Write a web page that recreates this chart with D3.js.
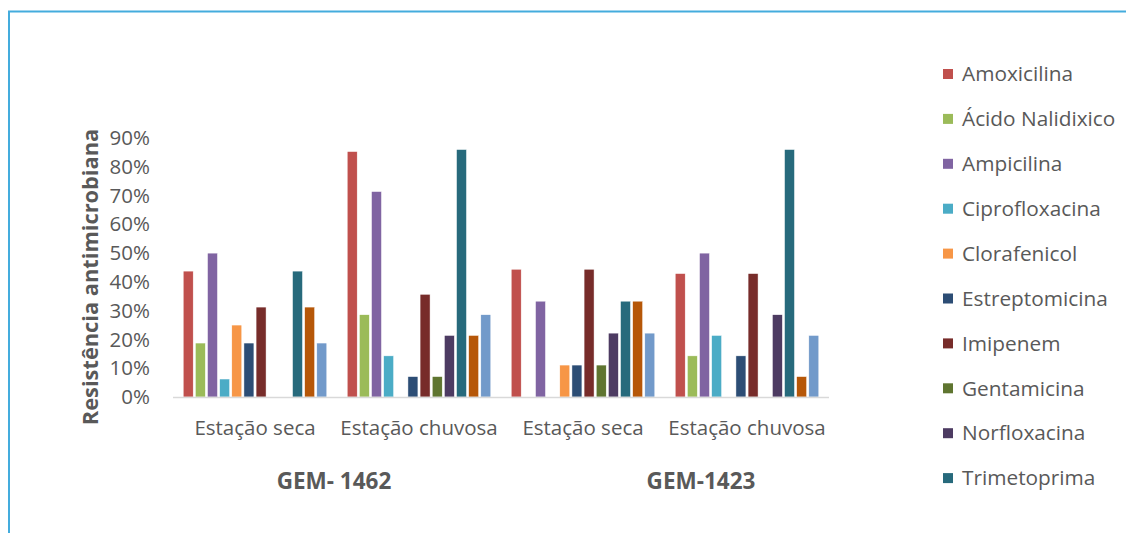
<!DOCTYPE html>
<html>
<head>
<meta charset="utf-8">
<script src="https://cdn.jsdelivr.net/npm/d3@7"></script>
<style>
  html, body { margin: 0; padding: 0; background: #fff; }
  svg { display: block; }
  text { font-family: "Open Sans", "Noto Sans", sans-serif; fill: #595959; }
</style>
</head>
<body>
<svg id="chart" width="1126" height="533"></svg>
<script>
// Isolates and seasons (outer and inner category levels)
const isolates = ["GEM- 1462", "GEM-1423"];
const seasons = ["Estação seca", "Estação chuvosa"];

// Antibiotics, in series order; only the first ten fit in the legend
const antibiotics = [
  "Amoxicilina", "Ácido Nalidixico", "Ampicilina", "Ciprofloxacina",
  "Clorafenicol", "Estreptomicina", "Imipenem", "Gentamicina",
  "Norfloxacina", "Trimetoprima", "Série 11", "Série 12"
];
const legendCount = 10;

// Resistance (fraction) per group, one value per antibiotic
const gem1462Seca    = [0.4375, 0.1875, 0.50, 0.0625, 0.25, 0.1875, 0.3125, 0, 0, 0.4375, 0.3125, 0.1875];
const gem1462Chuvosa = [0.853, 0.286, 0.714, 0.143, 0, 0.071, 0.357, 0.071, 0.214, 0.860, 0.214, 0.286];
const gem1423Seca    = [0.444, 0, 0.333, 0, 0.111, 0.111, 0.444, 0.111, 0.222, 0.333, 0.333, 0.222];
const gem1423Chuvosa = [0.429, 0.143, 0.50, 0.214, 0, 0.143, 0.429, 0, 0.286, 0.860, 0.071, 0.214];

const yTicks = [0, 0.1, 0.2, 0.3, 0.4, 0.5, 0.6, 0.7, 0.8, 0.9];

const colors = [
  "#C0504D", "#9BBB59", "#8064A2", "#4BACC6", "#F79646", "#2C4D75",
  "#772C2A", "#5F7530", "#4D3B62", "#276A7C", "#B65708", "#729ACA"
];

const groups = [
  { isolate: isolates[0], season: seasons[0], values: gem1462Seca },
  { isolate: isolates[0], season: seasons[1], values: gem1462Chuvosa },
  { isolate: isolates[1], season: seasons[0], values: gem1423Seca },
  { isolate: isolates[1], season: seasons[1], values: gem1423Chuvosa }
];
groups.forEach((g, i) => g.key = i);

const svg = d3.select("#chart");

// Outer frame
svg.append("rect")
  .attr("x", 9).attr("y", 11.5)
  .attr("width", 1140).attr("height", 560)
  .attr("fill", "none")
  .attr("stroke", "#44ACDD")
  .attr("stroke-width", 2);

const plot = { left: 173, right: 829, top: 138, bottom: 397 };

const x0 = d3.scaleBand()
  .domain(groups.map(g => g.key))
  .range([plot.left, plot.right])
  .padding(0);

const x1 = d3.scaleBand()
  .domain(d3.range(antibiotics.length))
  .range([0, x0.bandwidth()])
  .paddingInner(0.177)
  .paddingOuter(0.84);

const y = d3.scaleLinear()
  .domain([0, 0.9])
  .range([plot.bottom, plot.top]);

// Bars
const gSel = svg.append("g").selectAll("g")
  .data(groups)
  .join("g")
  .attr("transform", d => `translate(${x0(d.key)},0)`);

gSel.selectAll("rect")
  .data(d => d.values.map((v, i) => ({ v, i })).filter(e => e.v > 0))
  .join("rect")
  .attr("x", d => x1(d.i))
  .attr("width", x1.bandwidth())
  .attr("y", d => y(d.v))
  .attr("height", d => y(0) - y(d.v))
  .attr("fill", d => colors[d.i])
  .attr("stroke", "#fff")
  .attr("stroke-width", 0.5);

// Category axis line
svg.append("line")
  .attr("x1", plot.left).attr("x2", plot.right)
  .attr("y1", y(0) + 0.5).attr("y2", y(0) + 0.5)
  .attr("stroke", "#D9D9D9")
  .attr("stroke-width", 1.5);

// Value axis
const yAxis = svg.append("g")
  .attr("transform", `translate(${plot.left},0)`)
  .call(d3.axisLeft(y).tickValues(yTicks).tickFormat(d3.format(".0%")).tickSize(0).tickPadding(23));
yAxis.select(".domain").remove();
yAxis.selectAll("text")
  .style("font-family", "'Open Sans', sans-serif")
  .attr("font-size", 20.5)
  .attr("fill", "#595959");

// Season labels
svg.append("g").selectAll("text")
  .data(groups)
  .join("text")
  .attr("x", d => x0(d.key) + x0.bandwidth() / 2)
  .attr("y", 428)
  .attr("dy", "0.35em")
  .attr("text-anchor", "middle")
  .attr("font-size", 20.5)
  .text(d => d.season);

// Isolate labels
const isoShift = [-3, 36];
svg.append("g").selectAll("text")
  .data(isolates)
  .join("text")
  .attr("x", (d, i) => x0(i * 2) + x0.bandwidth() + isoShift[i])
  .attr("y", 481)
  .attr("dy", "0.35em")
  .attr("text-anchor", "middle")
  .attr("font-size", 22.5)
  .attr("font-weight", "bold")
  .text(d => d);

// Axis title
svg.append("text")
  .attr("transform", "translate(90,277) rotate(-90)")
  .attr("dy", "0.35em")
  .attr("text-anchor", "middle")
  .attr("font-size", 21.8)
  .attr("font-weight", "bold")
  .text("Resistência antimicrobiana");

// Legend
const legend = svg.append("g").selectAll("g")
  .data(antibiotics.slice(0, legendCount))
  .join("g")
  .attr("transform", (d, i) => `translate(943,${74 + i * 44.9})`);
legend.append("rect")
  .attr("x", 0).attr("y", -5)
  .attr("width", 10).attr("height", 10)
  .attr("fill", (d, i) => colors[i]);
legend.append("text")
  .attr("x", 19)
  .attr("dy", "0.35em")
  .attr("font-size", 20.8)
  .text(d => d);
</script>
</body>
</html>
